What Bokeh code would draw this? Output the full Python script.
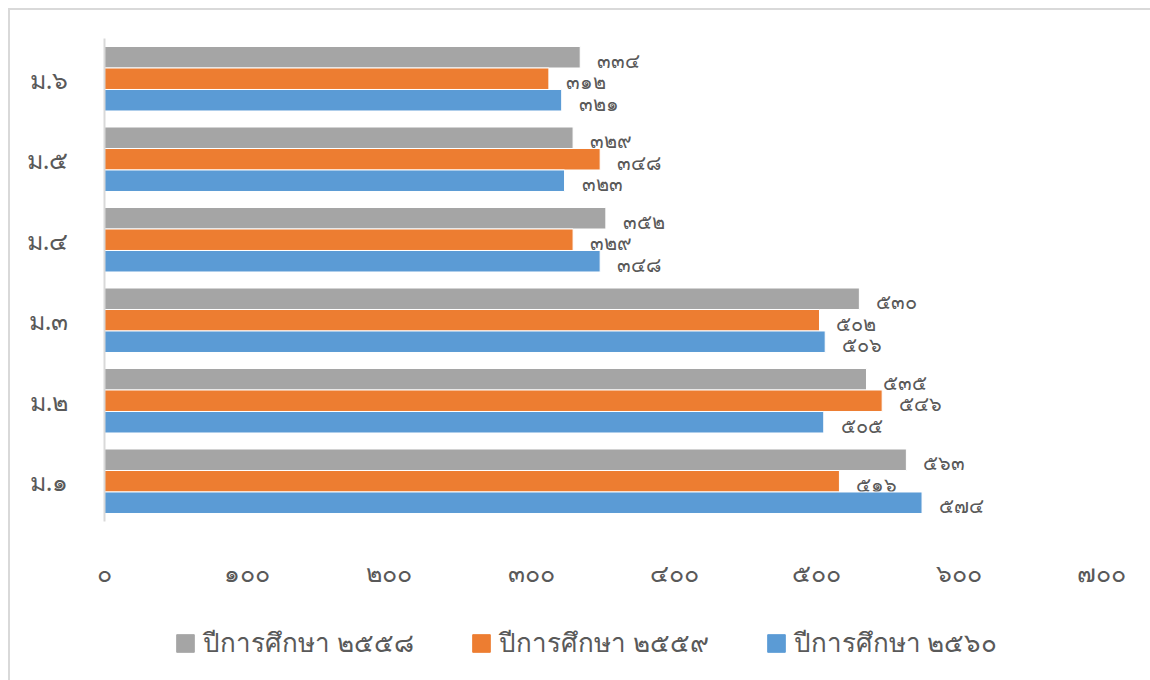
from bokeh.plotting import figure
from bokeh.layouts import column
from bokeh.models import ColumnDataSource, FactorRange, Range1d, FixedTicker, Legend, LegendItem
from bokeh.transform import dodge
from bokeh.core.properties import value
from bokeh.embed import file_html
from bokeh.resources import INLINE

grades = ["ม.๑", "ม.๒", "ม.๓", "ม.๔", "ม.๕", "ม.๖"]
series_names = ["ปีการศึกษา ๒๕๕๘", "ปีการศึกษา ๒๕๕๙", "ปีการศึกษา ๒๕๖๐"]
y2558 = [563, 535, 530, 352, 329, 334]
y2559 = [516, 546, 502, 329, 348, 312]
y2560 = [574, 505, 506, 348, 323, 321]
x_ticks = [0, 100, 200, 300, 400, 500, 600, 700]
x_tick_labels = ["๐", "๑๐๐", "๒๐๐", "๓๐๐", "๔๐๐", "๕๐๐", "๖๐๐", "๗๐๐"]
colors = ["#A5A5A5", "#ED7D31", "#5B9BD5"]

THAI = str.maketrans("0123456789", "๐๑๒๓๔๕๖๗๘๙")
def thai(n):
    return str(n).translate(THAI)

FONT = "Noto Sans"
TXT = "#595959"

src = ColumnDataSource(dict(
    grade=grades,
    a=y2558, b=y2559, c=y2560,
    la=[thai(v) for v in y2558],
    lb=[thai(v) for v in y2559],
    lc=[thai(v) for v in y2560],
))

p = figure(width=1140, height=610, y_range=FactorRange(*grades), x_range=Range1d(0, 700),
           output_backend="svg", toolbar_location=None,
           min_border_left=94, min_border_right=49, min_border_top=28, min_border_bottom=99)
p.outline_line_color = None
p.xgrid.grid_line_color = None
p.ygrid.grid_line_color = None

h = 0.267
offs = [h, 0.0, -h]
for col, lab, off, c in zip(["a", "b", "c"], ["la", "lb", "lc"], offs, colors):
    p.hbar(y=dodge("grade", off, range=p.y_range), right=col, left=0, height=h,
           source=src, fill_color=c, line_color="white", line_width=1)
    p.text(x=col, y=dodge("grade", off, range=p.y_range), text=lab, source=src,
           x_offset=17, y_offset=3, text_baseline="middle", text_align="left",
           text_font=value(FONT), text_font_size="20px", text_color=TXT)

p.xaxis.ticker = FixedTicker(ticks=x_ticks)
p.xaxis.major_label_overrides = {t: l for t, l in zip(x_ticks, x_tick_labels)}
p.xaxis.axis_line_color = None
p.xaxis.major_tick_line_color = None
p.xaxis.minor_tick_line_color = None
p.xaxis.major_tick_out = 0
p.xaxis.major_label_standoff = 33
p.xaxis.major_label_text_font = FONT
p.xaxis.major_label_text_font_size = "25px"
p.xaxis.major_label_text_color = TXT

p.yaxis.axis_line_color = "#D9D9D9"
p.yaxis.axis_line_width = 2
p.yaxis.major_tick_line_color = None
p.yaxis.minor_tick_line_color = None
p.yaxis.major_tick_out = 0
p.yaxis.major_label_standoff = 36
p.yaxis.major_label_text_font = FONT
p.yaxis.major_label_text_font_size = "25px"
p.yaxis.major_label_text_color = TXT

# legend strip below the chart (its frame is aligned with the chart's frame)
p2 = figure(width=1140, height=60, x_range=Range1d(0, 1), y_range=Range1d(0, 1),
            output_backend="svg", toolbar_location=None,
            x_axis_location=None, y_axis_location=None, min_border=0)
p2.outline_line_color = None
p2.xgrid.grid_line_color = None
p2.ygrid.grid_line_color = None
legend_renderers = [p2.hbar(y=[-5], right=[0.5], left=0, height=0.1, fill_color=c, line_color=c)
                    for c in colors]
legend = Legend(items=[LegendItem(label=n, renderers=[r]) for n, r in zip(series_names, legend_renderers)],
                orientation="horizontal", location=(70, 17), margin=0,
                glyph_width=22, glyph_height=22, label_standoff=7, spacing=56, padding=0,
                label_text_font=FONT, label_text_font_size="26px", label_text_color=TXT,
                border_line_color=None, background_fill_alpha=0)
p2.add_layout(legend, "center")

layout = column(p, p2, spacing=0,
                styles={"margin-left": "8px", "margin-top": "8px",
                        "border-left": "2px solid #D9D9D9", "border-top": "2px solid #D9D9D9"})

open("out.html", "w").write(file_html(layout, INLINE))
